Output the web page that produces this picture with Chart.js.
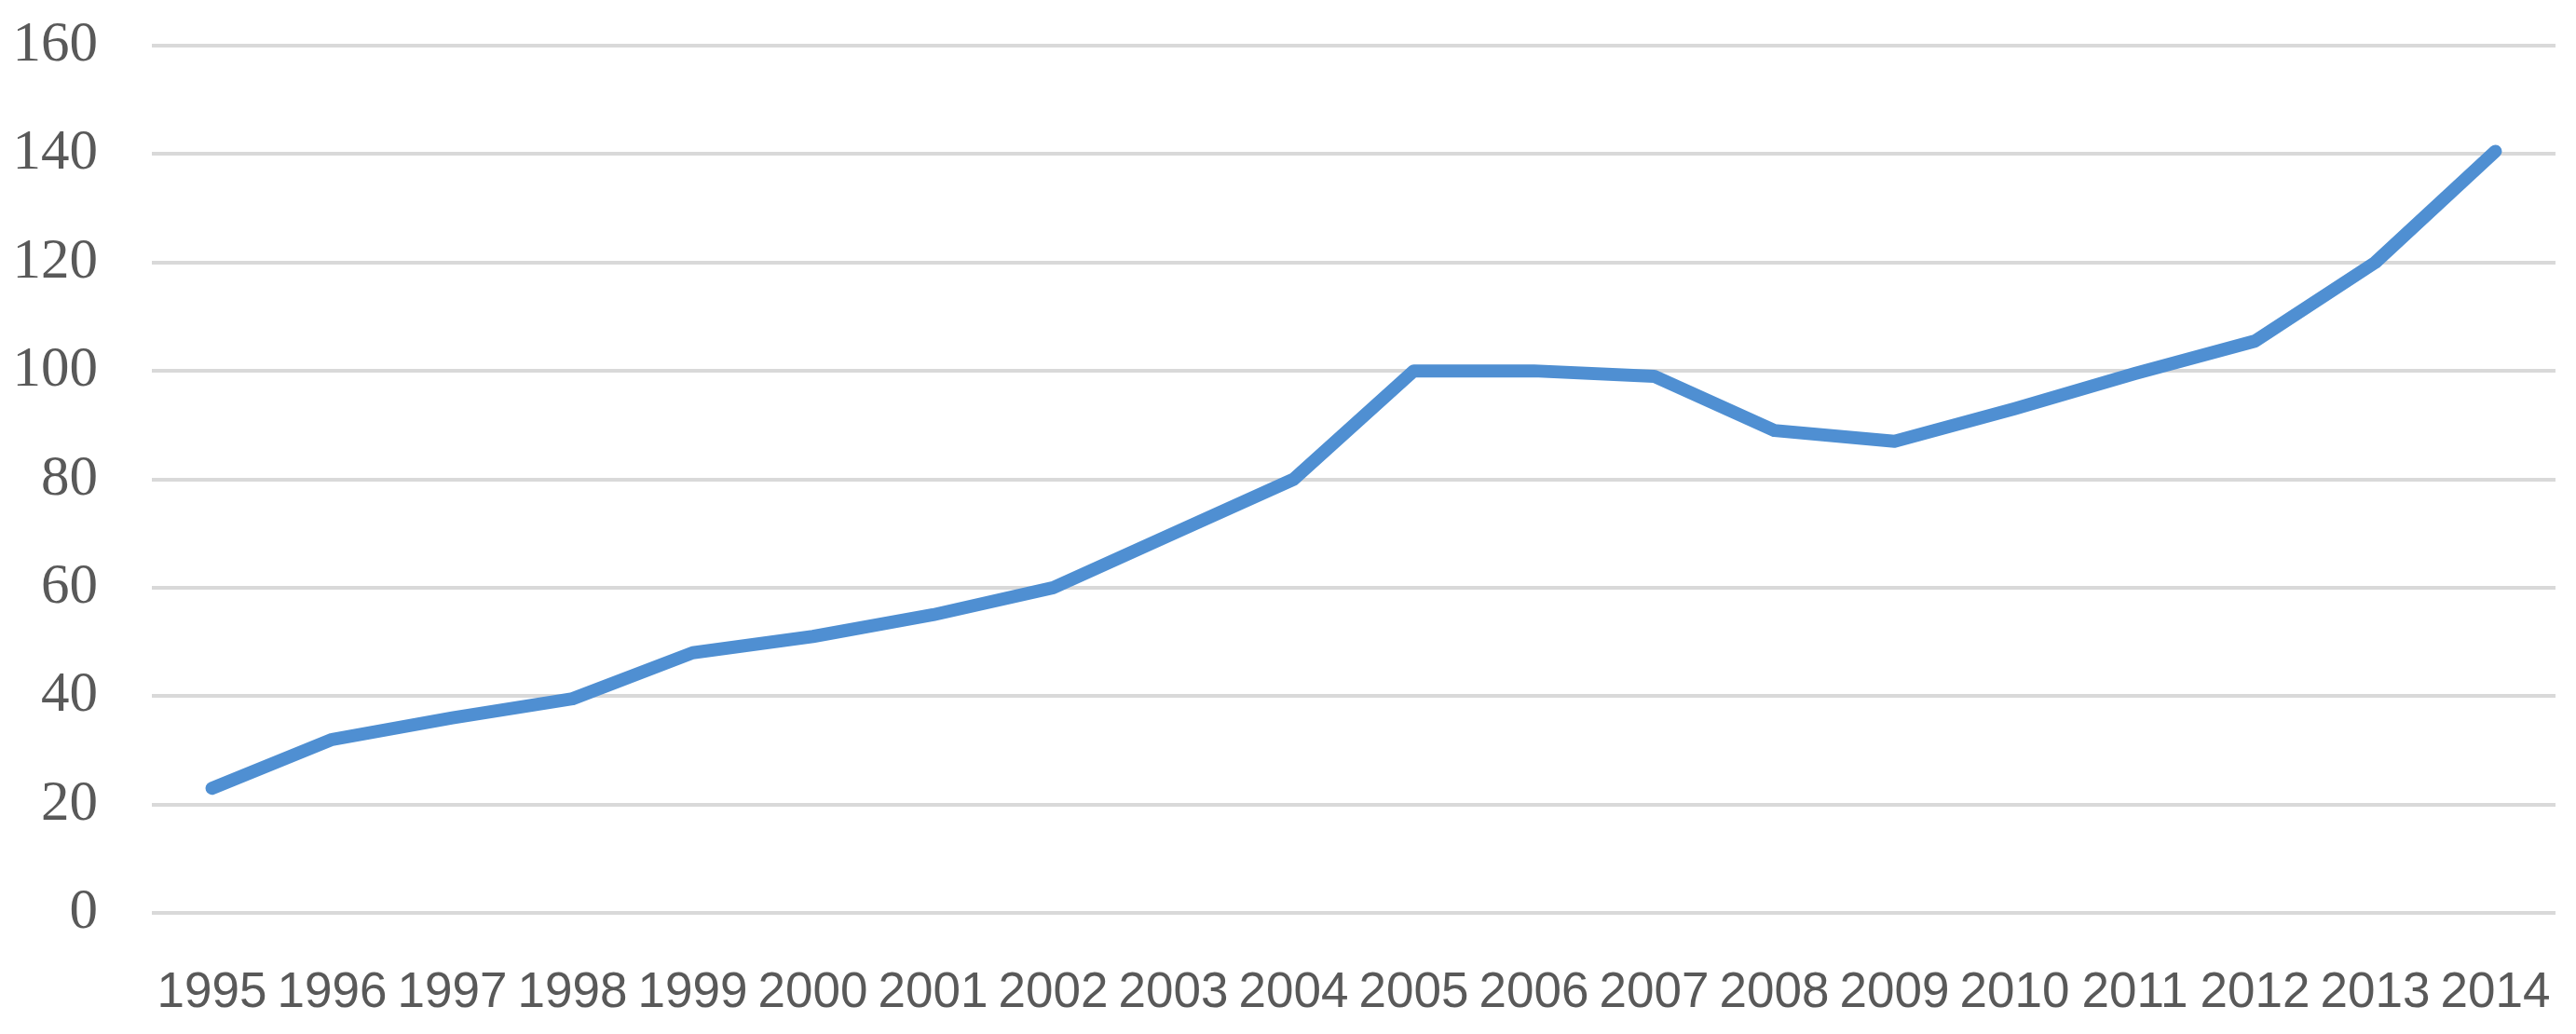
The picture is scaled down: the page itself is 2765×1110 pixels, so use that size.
<!DOCTYPE html>
<html>
<head>
<meta charset="utf-8">
<script src="https://cdn.jsdelivr.net/npm/chart.js@4/dist/chart.umd.min.js"></script>
<style>
	html, body { margin: 0; padding: 0; background: #ffffff; }
	#wrap { position: relative; width: 2765px; height: 1110px; }
</style>
</head>
<body>
<div id="wrap"><canvas id="myChart" width="2765" height="1110"></canvas></div>
<script>
// Chart data
var years = ["1995", "1996", "1997", "1998", "1999", "2000", "2001", "2002", "2003", "2004",
	"2005", "2006", "2007", "2008", "2009", "2010", "2011", "2012", "2013", "2014"];
var values = [23, 32, 36, 39.5, 48, 51, 55, 60, 70, 80,
	100, 100, 99, 89, 87, 93, 99.5, 105.5, 120, 140.5];
var yTicks = [0, 20, 40, 60, 80, 100, 120, 140, 160];

var textColor = '#595959';
var gridColor = '#d9d9d9';

var chartConfig = {
	type: 'line',
	data: {
		labels: years,
		datasets: [
			{
				data: values,
				borderColor: '#4f8fd2',
				backgroundColor: '#4f8fd2',
				borderWidth: 14,
				borderJoinStyle: 'round',
				borderCapStyle: 'round',
				pointRadius: 0,
				tension: 0,
				fill: false
			}
		]
	},
	options: {
		responsive: false,
		animation: false,
		devicePixelRatio: 1,
		layout: {
			padding: { top: 49, right: 22, bottom: 11, left: 15 }
		},
		plugins: {
			legend: { display: false },
			tooltip: { enabled: false }
		},
		scales: {
			x: {
				offset: true,
				grid: { display: false, drawTicks: false },
				border: { display: false },
				afterFit: function (axis) {
					// fixed height, no extra side padding from labels
					axis.height = 119;
					axis.paddingLeft = 0;
					axis.paddingRight = 0;
				},
				ticks: {
					autoSkip: false,
					maxRotation: 0,
					minRotation: 0,
					padding: 55,
					color: textColor,
					font: { family: "'Liberation Sans', Arial, sans-serif", size: 53 }
				}
			},
			y: {
				min: 0,
				max: 160,
				afterBuildTicks: function (axis) {
					axis.ticks = yTicks.map(function (v) { return { value: v }; });
				},
				afterFit: function (axis) {
					axis.width = 148;
					axis.paddingTop = 0;
					axis.paddingBottom = 0;
				},
				grid: { color: gridColor, lineWidth: 4, drawTicks: false },
				border: { display: false },
				ticks: {
					padding: 58,
					color: textColor,
					font: { family: "'Liberation Serif', serif", size: 61 }
				}
			}
		}
	}
};

new Chart(document.getElementById('myChart').getContext('2d'), chartConfig);
</script>
</body>
</html>
